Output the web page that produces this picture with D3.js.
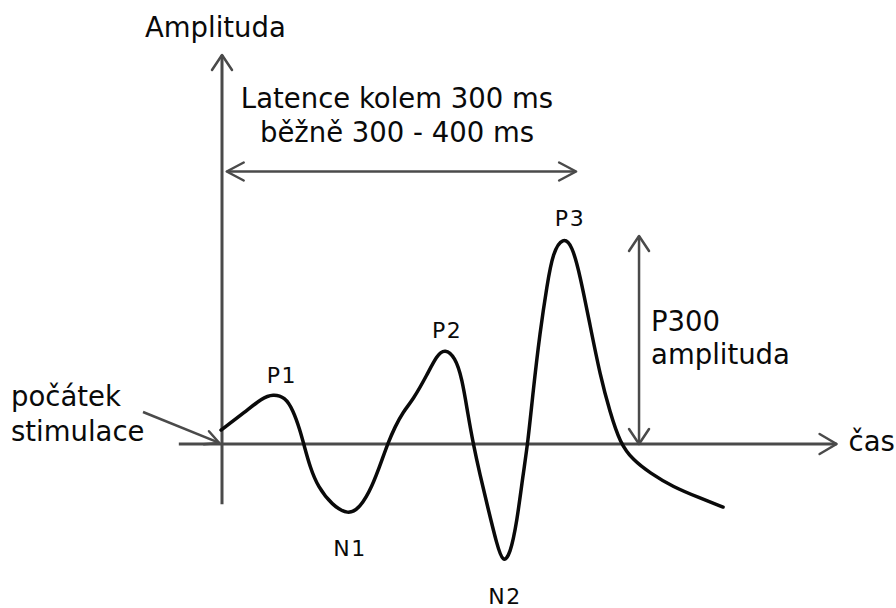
<!DOCTYPE html>
<html>
<head>
<meta charset="utf-8">
<script src="https://cdn.jsdelivr.net/npm/d3@7/dist/d3.min.js"></script>
<style>
  html, body { margin: 0; padding: 0; background: #fff; }
  svg { display: block; }
  text { font-family: "DejaVu Sans", sans-serif; fill: #0a0a0a; }
</style>
</head>
<body>
<svg id="chart" width="896" height="608"></svg>
<script>
// ---- Data (time in ms, amplitude in arbitrary units) ----
const waveTime = [0, 21.1, 36.0, 45.6, 56.1, 63.2, 69.3, 72.8, 78.1, 85.1, 97.4, 111.4, 121.9, 132.5, 141.2, 146.5, 152.6, 159.6, 168.4, 180.7, 189.5, 196.5, 205.3, 211.4, 216.7, 221.1, 227.2, 234.2, 242.1, 247.4, 253.5, 259.6, 264.9, 269.3, 273.7, 279.8, 286.0, 291.2, 300, 307.9, 314.9, 323.7, 332.5, 341.2, 350, 361.4, 376.3, 396.5, 420.2, 440.4];
const waveAmp  = [0.67, 1.54, 2.21, 2.40, 2.26, 1.63, 0.67, -0.05, -1.11, -2.07, -2.93, -3.41, -3.08, -2.07, -0.77, 0.05, 0.82, 1.54, 2.12, 3.32, 4.28, 4.57, 4.18, 3.17, 1.39, 0.05, -1.49, -3.08, -4.86, -5.72, -5.34, -3.75, -1.49, 0.10, 2.50, 5.38, 7.64, 9.23, 9.95, 9.57, 8.13, 5.72, 3.32, 1.54, 0.05, -0.77, -1.39, -2.07, -2.60, -3.03];

const peakNames = ["P1", "N1", "P2", "N2", "P3"];
const peakTime  = [45.6, 111.4, 196.5, 247.4, 300];
const peakAmp   = [2.40, -3.41, 4.57, -5.72, 9.95];

const timeAxisExtent = [-37, 540];
const ampAxisExtent  = [-2.9, 18.7];
const latencyExtent  = [5, 311.5];
const latencyLevel   = 13.1;
const p300Time       = 366.7;

const yLabel = "Amplituda";
const xLabel = "čas";
const latencyLines = ["Latence kolem 300 ms", "běžně 300 - 400 ms"];
const p300Lines = ["P300", "amplituda"];
const onsetLines = ["počátek", "stimulace"];

// ---- Scales ----
const x = d3.scaleLinear().domain([0, 300]).range([221, 563]);
const y = d3.scaleLinear().domain([0, 10]).range([444, 236]);

const svg = d3.select("#chart");
const axisColor = "#4a4a4a";

function chevron(g, tx, ty, dirx, diry, len, spread, color, w) {
  const nx = -diry, ny = dirx;
  const p = d3.path();
  p.moveTo(tx - dirx * len + nx * spread, ty - diry * len + ny * spread);
  p.lineTo(tx, ty);
  p.lineTo(tx - dirx * len - nx * spread, ty - diry * len - ny * spread);
  g.append("path").attr("d", p.toString()).attr("fill", "none")
    .attr("stroke", color).attr("stroke-width", w)
    .attr("stroke-linecap", "round").attr("stroke-linejoin", "round");
}

const g = svg.append("g");

// Time axis
g.append("line")
  .attr("x1", x(timeAxisExtent[0])).attr("x2", x(timeAxisExtent[1]))
  .attr("y1", y(0)).attr("y2", y(0))
  .attr("stroke", axisColor).attr("stroke-width", 3);
chevron(g, x(timeAxisExtent[1]), y(0), 1, 0, 17, 10, axisColor, 2.5);

// Amplitude axis
g.append("line")
  .attr("x1", x(0) + 1).attr("x2", x(0) + 1)
  .attr("y1", y(ampAxisExtent[0])).attr("y2", y(ampAxisExtent[1]))
  .attr("stroke", axisColor).attr("stroke-width", 3);
chevron(g, x(0) + 1, y(ampAxisExtent[1]), 0, -1, 15, 10, axisColor, 2.5);

// Latency double arrow
g.append("line")
  .attr("x1", x(latencyExtent[0])).attr("x2", x(latencyExtent[1]))
  .attr("y1", y(latencyLevel)).attr("y2", y(latencyLevel))
  .attr("stroke", axisColor).attr("stroke-width", 2.5);
chevron(g, x(latencyExtent[0]), y(latencyLevel), -1, 0, 17, 9, axisColor, 2.5);
chevron(g, x(latencyExtent[1]), y(latencyLevel), 1, 0, 17, 9, axisColor, 2.5);

// P300 amplitude double arrow
g.append("line")
  .attr("x1", x(p300Time)).attr("x2", x(p300Time))
  .attr("y1", y(0)).attr("y2", y(10))
  .attr("stroke", axisColor).attr("stroke-width", 2.5);
chevron(g, x(p300Time), y(10), 0, -1, 15, 10, axisColor, 2.5);
chevron(g, x(p300Time), y(0), 0, 1, 15, 10, axisColor, 2.5);

// Onset pointer
const ptrFrom = [x(-68.4), y(1.54)], ptrTo = [x(-1.5), y(0.05)];
g.append("line")
  .attr("x1", ptrFrom[0]).attr("y1", ptrFrom[1])
  .attr("x2", ptrTo[0]).attr("y2", ptrTo[1])
  .attr("stroke", axisColor).attr("stroke-width", 2.5);
{
  const dx = ptrTo[0] - ptrFrom[0], dy = ptrTo[1] - ptrFrom[1];
  const L = Math.hypot(dx, dy);
  chevron(g, ptrTo[0], ptrTo[1], dx / L, dy / L, 14, 7, axisColor, 2.5);
}

// Wave
const wave = waveTime.map((t, i) => [t, waveAmp[i]]);
const line = d3.line().x(d => x(d[0])).y(d => y(d[1])).curve(d3.curveBasis);
g.append("path").datum(wave).attr("d", line)
  .attr("fill", "none").attr("stroke", "#0a0a0a").attr("stroke-width", 3.5)
  .attr("stroke-linecap", "round").attr("stroke-linejoin", "round");

// Peak labels
const labelDx = [9, 2, 2, 2, 7];
g.selectAll("text.peak").data(peakNames).join("text")
  .attr("class", "peak")
  .attr("x", (d, i) => x(peakTime[i]) + labelDx[i])
  .attr("y", (d, i) => peakAmp[i] > 0 ? y(peakAmp[i]) - 11 : y(peakAmp[i]) + 41)
  .attr("text-anchor", "middle")
  .attr("font-size", 22)
  .attr("letter-spacing", 1.5)
  .text(d => d);

// Text annotations
g.append("text").attr("x", 145).attr("y", 37).attr("font-size", 27.5).text(yLabel);
g.append("text").attr("x", x(timeAxisExtent[1]) + 12).attr("y", y(0) + 7).attr("font-size", 27.5).text(xLabel);

g.selectAll("text.lat").data(latencyLines).join("text")
  .attr("class", "lat")
  .attr("x", 397).attr("y", (d, i) => 108 + i * 34)
  .attr("text-anchor", "middle").attr("font-size", 27.5).text(d => d);

g.selectAll("text.p300").data(p300Lines).join("text")
  .attr("class", "p300")
  .attr("x", x(p300Time) + 12).attr("y", (d, i) => 331 + i * 33)
  .attr("font-size", 27.5).text(d => d);

g.selectAll("text.onset").data(onsetLines).join("text")
  .attr("class", "onset")
  .attr("x", 11).attr("y", (d, i) => 406 + i * 35)
  .attr("font-size", 27.5).text(d => d);
</script>
</body>
</html>
